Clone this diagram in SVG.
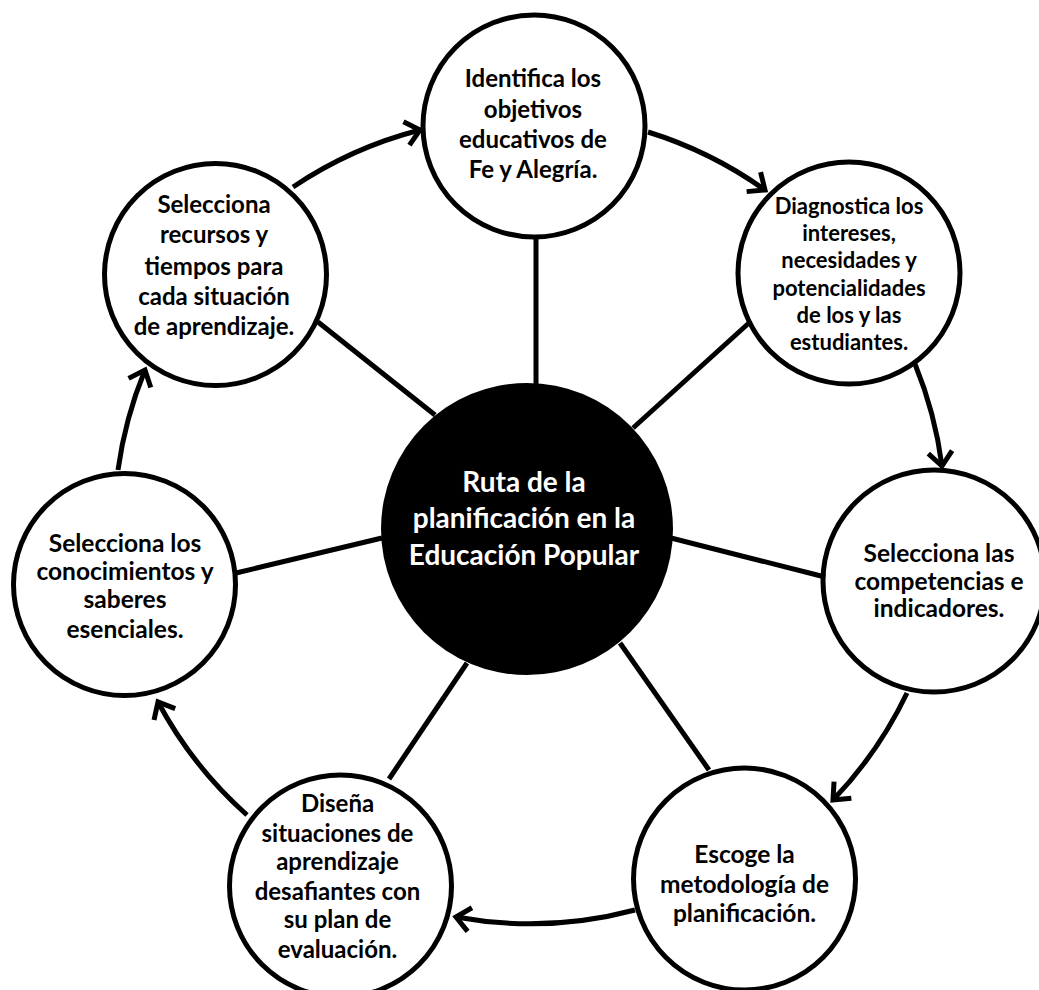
<svg xmlns="http://www.w3.org/2000/svg" width="1039" height="990" viewBox="0 0 1039 990">
<style>
.n{fill:#fff;stroke:#000;stroke-width:5}
.c{fill:#000}
.t{font-family:Lato,"Liberation Sans",sans-serif;font-weight:bold;fill:#000;text-anchor:middle}
.tc{font-family:Lato,"Liberation Sans",sans-serif;font-weight:bold;fill:#fff;text-anchor:middle;font-size:28px}
.sp{stroke:#000;stroke-width:5;fill:none}
.ar{stroke:#000;stroke-width:5;fill:none;marker-end:url(#ah)}
</style>
<defs>
<marker id="ah" markerUnits="userSpaceOnUse" markerWidth="40" markerHeight="40" viewBox="-20 -20 40 40" refX="0" refY="0" orient="auto" overflow="visible">
<path d="M-14,-12 L0,0 L-14,12" fill="none" stroke="#000" stroke-width="5"/>
</marker>
</defs>
<rect width="1039" height="990" fill="#fff"/>
<g id="center">
<circle class="c" cx="527" cy="529" r="146"/>
<text class="tc" x="524" y="492">Ruta de la</text>
<text class="tc" x="524" y="528">planificación en la</text>
<text class="tc" x="524" y="565">Educación Popular</text>
</g>
<g id="n1">
<circle class="n" cx="534" cy="126" r="111"/>
<text class="t" font-size="24" x="533" y="87">Identifica los</text>
<text class="t" font-size="24" x="533" y="118">objetivos</text>
<text class="t" font-size="24" x="533" y="148">educativos de</text>
<text class="t" font-size="24" x="533" y="178">Fe y Alegría.</text>
</g>
<g id="n2">
<circle class="n" cx="849" cy="273" r="111"/>
<text class="t" font-size="22" x="849" y="214">Diagnostica los</text>
<text class="t" font-size="22" x="849" y="241">intereses,</text>
<text class="t" font-size="22" x="849" y="268">necesidades y</text>
<text class="t" font-size="22" x="849" y="295.5">potencialidades</text>
<text class="t" font-size="22" x="849" y="323">de los y las</text>
<text class="t" font-size="22" x="849" y="350">estudiantes.</text>
</g>
<g id="n3">
<circle class="n" cx="934" cy="581" r="111"/>
<text class="t" font-size="24.5" x="939" y="562">Selecciona las</text>
<text class="t" font-size="24.5" x="939" y="590">competencias e</text>
<text class="t" font-size="24.5" x="939" y="617">indicadores.</text>
</g>
<g id="n4">
<circle class="n" cx="744.5" cy="879" r="111"/>
<text class="t" font-size="24.5" x="744.5" y="863">Escoge la</text>
<text class="t" font-size="24.5" x="744.5" y="893">metodología de</text>
<text class="t" font-size="24.5" x="744.5" y="922">planificación.</text>
</g>
<g id="n5">
<circle class="n" cx="340.5" cy="886" r="111"/>
<text class="t" font-size="24" x="337.5" y="812">Diseña</text>
<text class="t" font-size="24" x="337.5" y="842">situaciones de</text>
<text class="t" font-size="24" x="337.5" y="870">aprendizaje</text>
<text class="t" font-size="24" x="337.5" y="900">desafiantes con</text>
<text class="t" font-size="24" x="337.5" y="928">su plan de</text>
<text class="t" font-size="24" x="337.5" y="958">evaluación.</text>
</g>
<g id="n6">
<circle class="n" cx="124.5" cy="584.5" r="111"/>
<text class="t" font-size="24.5" x="125" y="552">Selecciona los</text>
<text class="t" font-size="24.5" x="125" y="580">conocimientos y</text>
<text class="t" font-size="24.5" x="125" y="608">saberes</text>
<text class="t" font-size="24.5" x="125" y="638">esenciales.</text>
</g>
<g id="n7">
<circle class="n" cx="215.5" cy="274.5" r="111"/>
<text class="t" font-size="24" x="214" y="213">Selecciona</text>
<text class="t" font-size="24" x="214" y="243">recursos y</text>
<text class="t" font-size="24" x="214" y="275">tiempos para</text>
<text class="t" font-size="24" x="214" y="305">cada situación</text>
<text class="t" font-size="24" x="214" y="335">de aprendizaje.</text>
</g>
<g id="connectors">
<line class="sp" x1="536" y1="238" x2="536" y2="386"/>
<line class="sp" x1="633" y1="428" x2="750" y2="322"/>
<line class="sp" x1="671" y1="538" x2="825" y2="577"/>
<line class="sp" x1="620" y1="643" x2="709" y2="770"/>
<line class="sp" x1="467" y1="663" x2="389" y2="779"/>
<line class="sp" x1="382" y1="538" x2="236" y2="573"/>
<line class="sp" x1="435" y1="415" x2="318" y2="322"/>
<path class="ar" d="M293,187 A410,410 0 0 1 420,130"/>
<path class="ar" d="M648,132 A410,410 0 0 1 765,190"/>
<path class="ar" d="M915,364 A410,410 0 0 1 942,466"/>
<path class="ar" d="M907,693 A410,410 0 0 1 833,800"/>
<path class="ar" d="M635,910 A410,410 0 0 1 456,917"/>
<path class="ar" d="M247,815 A410,410 0 0 1 158,702"/>
<path class="ar" d="M118,470 A410,410 0 0 1 145,370"/>
</g>
</svg>
